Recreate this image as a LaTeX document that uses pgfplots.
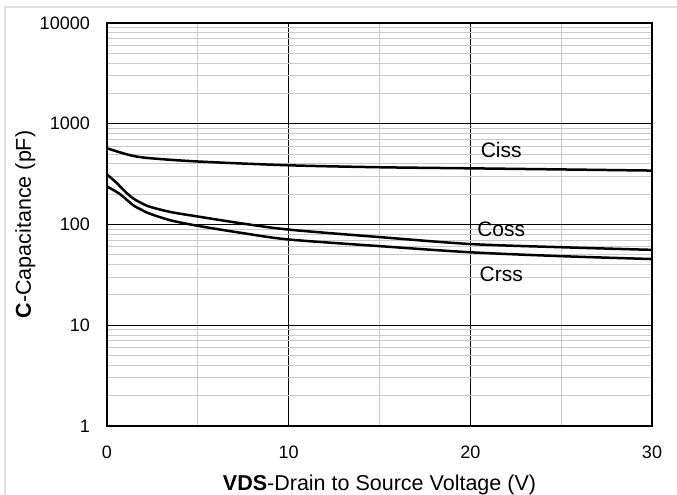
\documentclass[border=0pt]{standalone}
\usepackage{fontspec}
\setmainfont{Liberation Sans}
\usepackage{pgfplots}
\pgfplotsset{compat=1.18}
\definecolor{minorgrid}{RGB}{200,200,200}
\definecolor{framegray}{RGB}{225,225,225}

\begin{document}
\fontsize{18bp}{22bp}\selectfont
\begin{tikzpicture}
\path[use as bounding box] (0,0) rectangle (677bp,495bp);
% outer chart frame (only top and left visible)
\draw[framegray, line width=1.2bp] (5bp,-20bp) -- (5bp,488bp) -- (700bp,488bp);
\begin{axis}[
    at={(107bp,69bp)}, anchor=south west,
    scale only axis, width=545bp, height=403bp,
    xmin=0, xmax=30,
    ymode=log, ymin=1, ymax=10000,
    xtick={0,10,20,30},
    minor xtick={5,15,25},
    ytick={1,10,100,1000,10000},
    yticklabels={1,10,100,1000,10000},
    minor ytick={2,3,4,5,6,7,8,9,20,30,40,50,60,70,80,90,200,300,400,500,600,700,800,900,2000,3000,4000,5000,6000,7000,8000,9000},
    grid=both,
    major grid style={black, line width=0.9bp},
    minor grid style={minorgrid, line width=1bp},
    axis line style={line width=2.6bp},
    tick style={draw=none},
    /pgf/number format/assume math mode=true,
    xticklabel style={anchor=base, yshift=-32bp},
    yticklabel style={anchor=east, xshift=-11bp},
    xlabel={\textbf{VDS}-Drain to Source Voltage (V)},
    ylabel={\textbf{C}-Capacitance (pF)},
    xlabel style={font=\fontsize{21.5bp}{25bp}\selectfont, at={(axis description cs:0.5,-0.159)}, anchor=base},
    ylabel style={font=\fontsize{21.5bp}{25bp}\selectfont, at={(axis description cs:-0.150,0.5)}, anchor=center},
]
% Ciss
\addplot[black, line width=2.5bp, smooth, tension=0.5] coordinates {(0,571) (0.7,521) (1.43,480) (2.36,455) (5,422) (10,387) (15,370) (20,361) (25,352) (30,343)};
% Coss
\addplot[black, line width=2.5bp, smooth, tension=0.5] coordinates {(0,313) (0.5,262) (1.0,212) (1.43,182) (1.9,163) (2.36,150) (3.5,133) (5,120) (7.5,102) (10,89) (15,75) (20,64) (25,59.5) (30,56)};
% Crss
\addplot[black, line width=2.5bp, smooth, tension=0.5] coordinates {(0,238) (0.7,201) (1.43,156) (1.9,140) (2.36,128) (3.5,110) (5,97) (7.5,82) (10,71) (15,61) (20,53) (25,48.5) (30,45.4)};
\node[font=\fontsize{21bp}{25bp}\selectfont] at (axis cs:21.7,555) {Ciss};
\node[font=\fontsize{21bp}{25bp}\selectfont] at (axis cs:21.7,89.8) {Coss};
\node[font=\fontsize{21bp}{25bp}\selectfont] at (axis cs:21.7,32) {Crss};
\end{axis}
\end{tikzpicture}
\end{document}
